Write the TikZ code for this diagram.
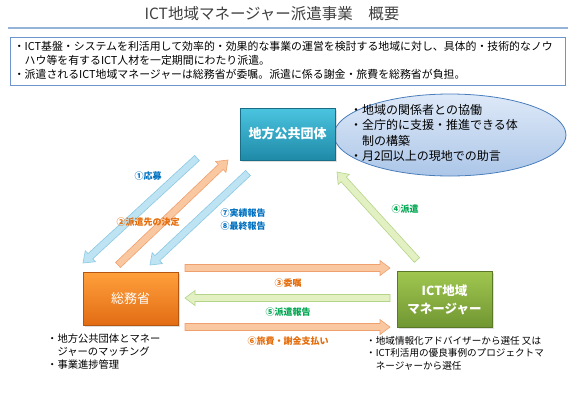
\documentclass[tikz,border=0pt]{standalone}
\usepackage{fontspec}
\setmainfont{Noto Sans CJK JP}
\usepackage{xcolor}
\usepackage{tikz}
\usetikzlibrary{calc, shapes.geometric, shadows}
\definecolor{titlegray}{RGB}{64,64,64}
\definecolor{rule}{RGB}{149,179,215}
\definecolor{frame}{RGB}{110,150,205}
\definecolor{tealtop}{RGB}{75,196,224}
\definecolor{tealbot}{RGB}{30,138,168}
\definecolor{orgtop}{RGB}{255,160,60}
\definecolor{orgbot}{RGB}{226,108,20}
\definecolor{grntop}{RGB}{160,198,80}
\definecolor{grnbot}{RGB}{112,150,50}
\definecolor{bubtop}{RGB}{222,233,248}
\definecolor{bubbot}{RGB}{172,198,232}
\definecolor{bubline}{RGB}{74,126,187}
\definecolor{bluefill}{RGB}{190,228,244}
\definecolor{blueline}{RGB}{140,200,226}
\definecolor{orgfill}{RGB}{250,200,160}
\definecolor{orgline}{RGB}{240,160,110}
\definecolor{grnfill}{RGB}{226,240,194}
\definecolor{grnline}{RGB}{180,212,138}
\definecolor{bluetxt}{RGB}{0,112,192}
\definecolor{orgtxt}{RGB}{228,108,10}
\definecolor{grntxt}{RGB}{0,166,80}
\newcommand{\fsz}[2]{\fontsize{#1}{#2}\selectfont}
\newcommand{\fatarrow}[3]{%
  \coordinate (#1-h) at ($(#2)!10pt!(#1)$);
  \path[#3] ($(#1)!3.5pt!90:(#2)$) -- ($(#1-h)!3.5pt!90:(#2)$)
    -- ($(#1-h)!7.5pt!90:(#2)$) -- (#2) -- ($(#1-h)!7.5pt!-90:(#2)$)
    -- ($(#1-h)!3.5pt!-90:(#2)$) -- ($(#1)!3.5pt!-90:(#2)$) -- cycle;}
\tikzset{
  actor/.style={
    rectangle, draw=#1bot!80!black, top color=#1top, bottom color=#1bot,
    minimum width=95pt, minimum height=53pt, inner sep=2pt, text=white,
    align=center, drop shadow={opacity=0.25, shadow xshift=1.5pt, shadow yshift=-1.5pt}
  },
  bluearrow/.style={fill=bluefill, draw=blueline, line width=0.6pt},
  orgarrow/.style={fill=orgfill, draw=orgline, line width=0.6pt},
  grnarrow/.style={fill=grnfill, draw=grnline, line width=0.6pt},
  steplabel/.style={font=\fsz{9}{11}\bfseries, text=#1, inner sep=0pt},
  notes/.style={align=left, inner sep=0pt, anchor=north west},
}
\begin{document}
\begin{tikzpicture}[x=1pt, y=-1pt]
  \useasboundingbox (0,0) rectangle (576,400);
  \node[text=titlegray, font=\fsz{15.5}{18}] (title) at (272,14) {ICT地域マネージャー派遣事業　概要};
  \draw[rule, line width=2pt] (8,28) -- (568,28);
  \node[draw=frame, line width=0.8pt, minimum width=555pt, minimum height=48pt] (info) at (287.5,61) {};
  \node[notes, font=\fsz{10.9}{14}] (infotext) at ($(info.north west)+(4,4)$)
    {・ICT基盤・システムを利活用して効率的・効果的な事業の運営を検討する地域に対し、具体的・技術的なノウ\\
     \hspace*{1em}ハウ等を有するICT人材を一定期間にわたり派遣。\\
     ・派遣されるICT地域マネージャーは総務省が委嘱。派遣に係る謝金・旅費を総務省が負担。};

  \node[ellipse, draw=bubline, line width=0.8pt, top color=bubtop, bottom color=bubbot,
        minimum width=232pt, minimum height=82pt, inner sep=0pt] (bubble) at (450,135) {};
  \node[notes, font=\fsz{12}{15.3}, anchor=west] (bubtext) at (350,133)
    {・地域の関係者との協働\\
     ・全庁的に支援・推進できる体\\
     \hspace*{1em}制の構築\\
     ・月2回以上の現地での助言};

  \node[actor=teal, font=\fsz{13}{16}\bfseries, minimum height=52pt] (govt) at (287.5,134) {地方公共団体};
  \node[actor=org, font=\fsz{13}{16}] (soumu) at (130.5,298.5) {総務省};
  \node[actor=grn, font=\fsz{12.5}{18}\bfseries, minimum height=56pt] (mgr) at (444.5,299.5)
    {ICT地域\\マネージャー};

  \coordinate (oubo s) at (197,158);   \coordinate (oubo e) at (83,263);
  \coordinate (kettei s) at (118,265); \coordinate (kettei e) at (228,160);
  \coordinate (houkoku s) at (248,173); \coordinate (houkoku e) at (150,265);
  \coordinate (haken s) at (417,260);  \coordinate (haken e) at (337,172);
  \coordinate (ishoku s) at (185,268); \coordinate (ishoku e) at (390,268);
  \coordinate (hhoukoku s) at (390,298); \coordinate (hhoukoku e) at (185,298);
  \coordinate (ryohi s) at (185,327);  \coordinate (ryohi e) at (390,327);

  \fatarrow{oubo s}{oubo e}{bluearrow}
  \fatarrow{kettei s}{kettei e}{orgarrow}
  \fatarrow{houkoku s}{houkoku e}{bluearrow}
  \fatarrow{haken s}{haken e}{grnarrow}
  \fatarrow{ishoku s}{ishoku e}{orgarrow}
  \fatarrow{hhoukoku s}{hhoukoku e}{grnarrow}
  \fatarrow{ryohi s}{ryohi e}{orgarrow}

  \node[steplabel=bluetxt] (l1) at (148,176) {①応募};
  \node[steplabel=orgtxt] (l2) at (148,222) {②派遣先の決定};
  \node[steplabel=bluetxt] (l7) at (243,213) {⑦実績報告};
  \node[steplabel=bluetxt] (l8) at (243,226) {⑧最終報告};
  \node[steplabel=grntxt] (l4) at (405,209) {④派遣};
  \node[steplabel=orgtxt] (l3) at (288,283) {③委嘱};
  \node[steplabel=grntxt] (l5) at (288,312) {⑤派遣報告};
  \node[steplabel=orgtxt] (l6) at (288,341) {⑥旅費・謝金支払い};

  \node[notes, font=\fsz{10.3}{13}] (soumu notes) at (47,334)
    {・地方公共団体とマネー\\
     \hspace*{1em}ジャーのマッチング\\
     ・事業進捗管理};
  \node[notes, font=\fsz{9.6}{12.5}] (mgr notes) at (366,336)
    {・地域情報化アドバイザーから選任 又は\\
     ・ICT利活用の優良事例のプロジェクトマ\\
     \hspace*{1em}ネージャーから選任};
\end{tikzpicture}
\end{document}
